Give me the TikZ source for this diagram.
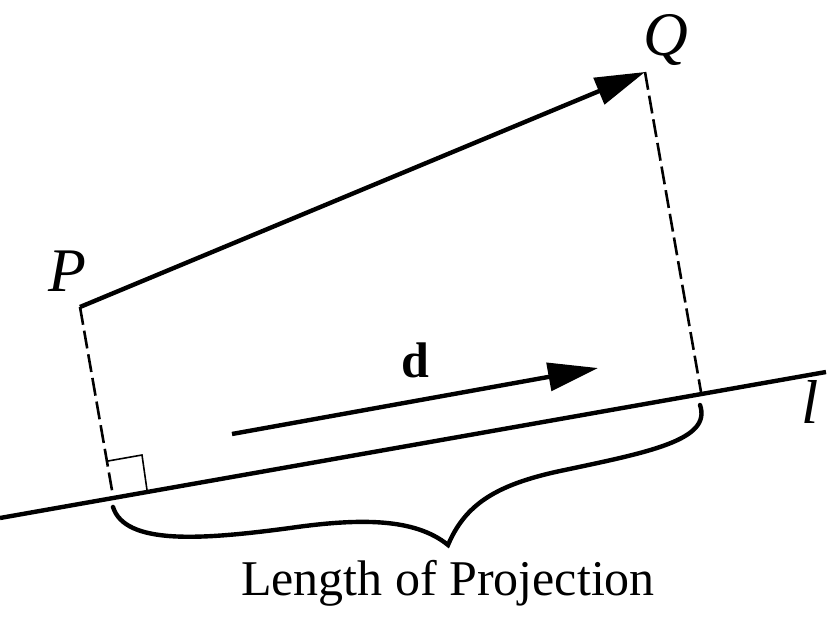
\documentclass[tikz,border=0pt]{standalone}
\usepackage{fontspec}
\setmainfont{Liberation Serif}
\usetikzlibrary{arrows.meta}
\begin{document}
\begin{tikzpicture}[x=0.5pt,y=-0.5pt,
  thick line/.style={line width=2.2pt},
  proj/.style={line width=1.3pt, dash pattern=on 9pt off 3pt},
  bigarrow/.style={thick line, -{Triangle[length=25pt,width=14pt]}},
  lbl/.style={inner sep=0pt},
]
\useasboundingbox (0,0) rectangle (829,626);
\coordinate (P) at (80,307);
\coordinate (Q) at (645,72);
\coordinate (F) at (113,496);
\coordinate (G) at (701,392);
\coordinate (L1) at (0,518);
\coordinate (L2) at (826,372);
\coordinate (D1) at (232,434);
\coordinate (D2) at (598,368);
% line l
\draw[thick line] (L1) -- (L2);
% projections
\draw[proj] (P) -- (F);
\draw[proj] (Q) -- (G);
% right angle
\draw[line width=0.8pt] (108,461) -- (142,455) -- (147,490);
% vectors
\draw[bigarrow] (P) -- (Q);
\draw[bigarrow] (D1) -- (D2);
% brace
\draw[thick line, line cap=round] (113,507) .. controls (125,545) and (200,540) .. (290,528)
  .. controls (360,518) and (415,518) .. (448,545)
  .. controls (465,505) and (495,485) .. (560,471)
  .. controls (650,452) and (712,440) .. (700,405);
% labels
\node[lbl] (Pl) at (67,271) {\fontsize{31}{33}\selectfont\itshape P};
\node[lbl] (Ql) at (666,40) {\fontsize{31}{33}\selectfont\itshape Q};
\node[lbl] (ll) at (810,402) {\fontsize{31}{33}\selectfont\itshape l};
\node[lbl] (dl) at (415,360) {\fontsize{25}{27}\selectfont\bfseries d};
\node[lbl] (txt) at (448,583) {\fontsize{25}{28}\selectfont Length of Projection};
\end{tikzpicture}
\end{document}
